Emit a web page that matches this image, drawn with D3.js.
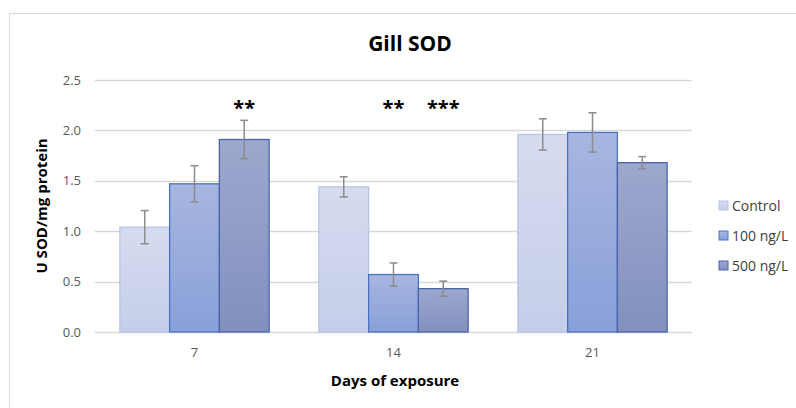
<!DOCTYPE html>
<meta charset="utf-8">
<style>
body { margin: 0; background: #fff; }
text { font-family: "Open Sans", "Noto Sans", sans-serif; }
.tick text { fill: #595959; font-size: 13px; }
.legend text { fill: #404040; font-size: 14px; }
.title { font-size: 21px; font-weight: bold; fill: #000; }
.axis-title { font-size: 15px; font-weight: bold; fill: #000; }
.star { font-size: 20px; font-weight: bold; fill: #000; }
</style>
<body>
<svg width="796" height="408"></svg>
<script src="https://d3js.org/d3.v7.min.js"></script>
<script>

var days = ["7", "14", "21"];
var series = ["Control", "100 ng/L", "500 ng/L"];
var control = [1.04, 1.44, 1.96];
var ng100 = [1.47, 0.57, 1.98];
var ng500 = [1.91, 0.43, 1.68];
var errControl = [0.165, 0.10, 0.155];
var err100 = [0.18, 0.115, 0.195];
var err500 = [0.19, 0.075, 0.06];
var stars = [["", "", "**"], ["", "**", "***"], ["", "", ""]];
var yTicks = [0, 0.5, 1.0, 1.5, 2.0, 2.5];

var values = [control, ng100, ng500];
var errors = [errControl, err100, err500];

var fills = [["#d6dbef", "#c5cee9"], ["#a8b6e0", "#88a0d9"], ["#9ca8cd", "#8290bf"]];
var strokes = ["#b9c5e6", "#4a72c4", "#4b66a6"];

var svg = d3.select("svg"),
    margin = {top: 80, left: 95, right: 104, bottom: 76},
    width = 796 - margin.left - margin.right,
    height = 408 - margin.top - margin.bottom;

// chart border (only left/top visible in the frame)
svg.append("rect")
    .attr("x", 9.5).attr("y", 13.5)
    .attr("width", 800).attr("height", 420)
    .attr("fill", "none").attr("stroke", "#d9d9d9");

var defs = svg.append("defs");
fills.forEach(function(f, i) {
  var lg = defs.append("linearGradient")
      .attr("id", "grad" + i)
      .attr("x1", 0).attr("y1", 0).attr("x2", 0).attr("y2", 1);
  lg.append("stop").attr("offset", "0%").attr("stop-color", f[0]);
  lg.append("stop").attr("offset", "100%").attr("stop-color", f[1]);
});

var g = svg.append("g").attr("transform", "translate(" + margin.left + "," + margin.top + ")");

var x0 = d3.scaleBand().domain(days).range([0, width]).paddingInner(0.25).paddingOuter(0.125);
var x1 = d3.scaleBand().domain(series).range([0, x0.bandwidth()]);
var y = d3.scaleLinear().domain([0, 2.5]).range([height, 0]);

// gridlines
g.selectAll(".grid")
  .data(yTicks)
  .enter().append("line")
    .attr("x1", 0).attr("x2", width)
    .attr("y1", function(d) { return Math.round(y(d)) + 0.5; })
    .attr("y2", function(d) { return Math.round(y(d)) + 0.5; })
    .attr("stroke", "#d9d9d9").attr("stroke-width", 1.3);

var yAxis = g.append("g")
    .call(d3.axisLeft(y).tickValues(yTicks).tickFormat(d3.format(".1f")).tickSize(0).tickPadding(14));
yAxis.select(".domain").remove();

var xAxis = g.append("g")
    .attr("transform", "translate(0," + height + ")")
    .call(d3.axisBottom(x0).tickSize(0).tickPadding(16));
xAxis.select(".domain").remove();

var groups = g.selectAll(".day")
  .data(days)
  .enter().append("g")
    .attr("transform", function(d) { return "translate(" + x0(d) + ",0)"; });

function rows(d, i) {
  return series.map(function(s, j) { return {s: s, j: j, v: values[j][i], e: errors[j][i], star: stars[i][j]}; });
}

groups.selectAll("rect")
  .data(rows)
  .enter().append("rect")
    .attr("x", function(d) { return x1(d.s); })
    .attr("y", function(d) { return y(d.v); })
    .attr("width", x1.bandwidth())
    .attr("height", function(d) { return height - y(d.v); })
    .attr("fill", function(d) { return "url(#grad" + d.j + ")"; })
    .attr("stroke", function(d) { return strokes[d.j]; })
    .attr("stroke-width", 1.3);

var eb = groups.selectAll(".err")
  .data(rows)
  .enter().append("g")
    .attr("transform", function(d) { return "translate(" + (x1(d.s) + x1.bandwidth() / 2) + ",0)"; });

eb.append("line")
    .attr("y1", function(d) { return y(d.v + d.e); })
    .attr("y2", function(d) { return y(d.v - d.e); })
    .attr("stroke", "#8c8c8c").attr("stroke-width", 1.5);
eb.selectAll(".cap")
  .data(function(d) { return [d.v + d.e, d.v - d.e]; })
  .enter().append("line")
    .attr("x1", -4).attr("x2", 4)
    .attr("y1", function(d) { return y(d); })
    .attr("y2", function(d) { return y(d); })
    .attr("stroke", "#8c8c8c").attr("stroke-width", 1.5);

eb.append("text")
    .attr("class", "star")
    .attr("text-anchor", "middle")
    .attr("y", y(2.25) + 10)
    .text(function(d) { return d.star; });

svg.append("text")
    .attr("class", "title")
    .attr("text-anchor", "middle")
    .attr("x", 410).attr("y", 51)
    .text("Gill SOD");

svg.append("text")
    .attr("class", "axis-title")
    .attr("text-anchor", "middle")
    .attr("transform", "translate(47," + (margin.top + height / 2) + ") rotate(-90)")
    .text("U SOD/mg protein");

svg.append("text")
    .attr("class", "axis-title")
    .attr("text-anchor", "middle")
    .attr("x", 395).attr("y", 386)
    .text("Days of exposure");

var legend = svg.append("g").attr("class", "legend")
    .attr("transform", "translate(719,201)");
var li = legend.selectAll("g")
  .data(series)
  .enter().append("g")
    .attr("transform", function(d, i) { return "translate(0," + i * 30 + ")"; });
li.append("rect")
    .attr("width", 9).attr("height", 9)
    .attr("fill", function(d, i) { return "url(#grad" + i + ")"; })
    .attr("stroke", function(d, i) { return strokes[i]; });
li.append("text")
    .attr("x", 13).attr("y", 10)
    .text(function(d) { return d; });

</script>
</body>
